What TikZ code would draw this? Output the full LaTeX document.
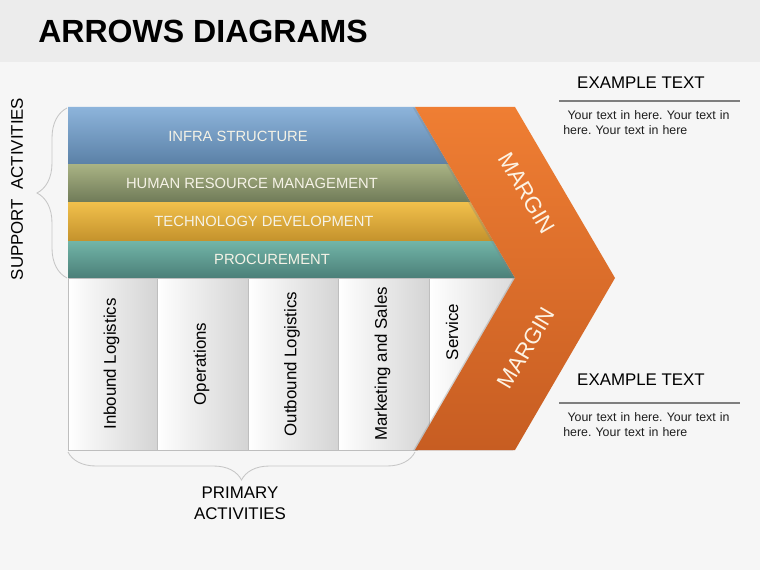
\documentclass[tikz,border=0pt]{standalone}
\usepackage{fontspec}
\setmainfont{Liberation Sans}
\usetikzlibrary{positioning, decorations.pathreplacing, shadows}
\frenchspacing
\definecolor{bgMain}{HTML}{F6F6F6}
\definecolor{bgHead}{HTML}{ECECEC}
\definecolor{infraTop}{HTML}{8DB4DB}
\definecolor{infraBot}{HTML}{5A80A6}
\definecolor{hrmTop}{HTML}{A8B283}
\definecolor{hrmBot}{HTML}{6E7957}
\definecolor{techTop}{HTML}{F0BF4B}
\definecolor{techBot}{HTML}{C4922C}
\definecolor{procTop}{HTML}{72B5A8}
\definecolor{procBot}{HTML}{4B7F78}
\definecolor{chevTop}{HTML}{EF7E33}
\definecolor{chevBot}{HTML}{C75D22}
\definecolor{barText}{HTML}{F5F2E6}
\definecolor{marginText}{HTML}{FDF3E3}
\definecolor{boxGray}{HTML}{D4D4D4}
\definecolor{boxLine}{HTML}{BEBEBE}
\definecolor{braceGray}{HTML}{C6C6C6}
\definecolor{ruleGray}{HTML}{7F7F7F}
\definecolor{bodyInk}{HTML}{1E1E1E}

\begin{document}
\begin{tikzpicture}[
  x=0.025cm, y=-0.025cm,
  barlabel/.style={
    text=barText,
    font=\fontsize{10.5}{12}\selectfont
  },
  vlabel/.style={
    rotate=90,
    font=\fontsize{12}{14}\selectfont
  },
  marginlabel/.style={
    text=marginText,
    font=\fontsize{16}{18}\selectfont
  },
  actbox/.style={
    left color=white,
    right color=boxGray,
    draw=boxLine,
    line width=0.6pt
  },
  chevron/.style={
    top color=chevTop,
    bottom color=chevBot,
    drop shadow={shadow xshift=-1.5pt, shadow yshift=-0.5pt, opacity=0.3}
  },
  bracket/.style={
    draw=braceGray,
    line width=0.6pt,
    decorate,
    decoration={brace, amplitude=#1}
  },
  headtext/.style={
    font=\fontsize{12}{14}\selectfont
  },
  bodytext/.style={
    text=bodyInk,
    font=\fontsize{8.8}{10.7}\selectfont,
    text width=4.6cm,
    align=left,
    inner sep=0pt
  },
  rulebar/.style={
    draw=ruleGray,
    line width=2pt
  }
]

% background and title
\fill[bgMain] (0,0) rectangle (760,570);
\fill[bgHead] (0,0) rectangle (760,62);
\node[anchor=base west, inner sep=0pt, font=\bfseries\fontsize{22.8}{27}\selectfont] (title) at (38,43) {ARROWS DIAGRAMS};

% support bars
\begin{scope}
  \clip (68,107) -- (415,107) -- (515,278) -- (68,278) -- cycle;
  \shade[top color=infraTop, bottom color=infraBot] (68,107) rectangle (520,165);
  \shade[top color=hrmTop, bottom color=hrmBot] (68,165) rectangle (520,203);
  \shade[top color=techTop, bottom color=techBot] (68,203) rectangle (520,241);
  \shade[top color=procTop, bottom color=procBot] (68,241) rectangle (520,278);
\end{scope}

% primary boxes
\begin{scope}
  \clip (60,278) -- (515,278) -- (415,455) -- (60,455) -- cycle;
  \foreach \xa/\xb/\txt [count=\i] in {68/157/Inbound Logistics, 157/248/Operations,
      248/338/Outbound Logistics, 338/429/Marketing and Sales} {
    \shade[actbox] (\xa,278) rectangle (\xb,450);
    \node[vlabel] (act\i) at ({(\xa+\xb)/2-1},364) {\txt};
  }
  \shade[actbox] (429,278) rectangle (530,450);
\end{scope}
\node[vlabel] (act5) at (452,332) {Service};

% margin chevron
\coordinate (cTL) at (415,107);
\coordinate (cTR) at (515,107);
\coordinate (cTip) at (615,278);
\coordinate (cBR) at (515,450);
\coordinate (cBL) at (415,450);
\coordinate (cNotch) at (515,278);
\shade[chevron] (cTL) -- (cTR) -- (cTip) -- (cBR) -- (cBL) -- (cNotch) -- cycle;
\node[marginlabel, rotate=-59.7] (marginTop) at (527,193) {MARGIN};
\node[marginlabel, rotate=59.7] (marginBot) at (526,348) {MARGIN};

% bar labels
\node[barlabel] (infra) at (238,136) {INFRA STRUCTURE};
\node[barlabel] (hrm) at (252,183) {HUMAN RESOURCE MANAGEMENT};
\node[barlabel] (tech) at (264,221) {TECHNOLOGY DEVELOPMENT};
\node[barlabel] (proc) at (272,259) {PROCUREMENT};

% braces
\coordinate (supTop) at (67,108);
\coordinate (supBot) at (67,278);
\draw[bracket=0.75cm] (supBot) -- (supTop);
\node[vlabel] (support) at (17,189) {SUPPORT\hspace{0.55em}ACTIVITIES};

\coordinate (priLeft) at (68,452);
\coordinate (priRight) at (415,452);
\draw[bracket=0.7cm] (priRight) -- (priLeft);
\node[headtext, align=center, font=\fontsize{12}{15}\selectfont] (primary) at (240,503) {PRIMARY\\ACTIVITIES};

% example text, top
\node[headtext] (headA) at (641,83) {EXAMPLE TEXT};
\coordinate (ruleAL) at (559,101);
\coordinate (ruleAR) at (740,101);
\draw[rulebar] (ruleAL) -- (ruleAR);
\node[bodytext, below right=0.22cm and 0.1cm of ruleAL] (bodyA) {\hspace*{3pt}Your text in here. Your text in\\here. Your text in here};

% example text, bottom
\node[headtext] (headB) at (641,380) {EXAMPLE TEXT};
\coordinate (ruleBL) at (559,403);
\coordinate (ruleBR) at (740,403);
\draw[rulebar] (ruleBL) -- (ruleBR);
\node[bodytext, below right=0.22cm and 0.1cm of ruleBL] (bodyB) {\hspace*{3pt}Your text in here. Your text in\\here. Your text in here};

\end{tikzpicture}
\end{document}
